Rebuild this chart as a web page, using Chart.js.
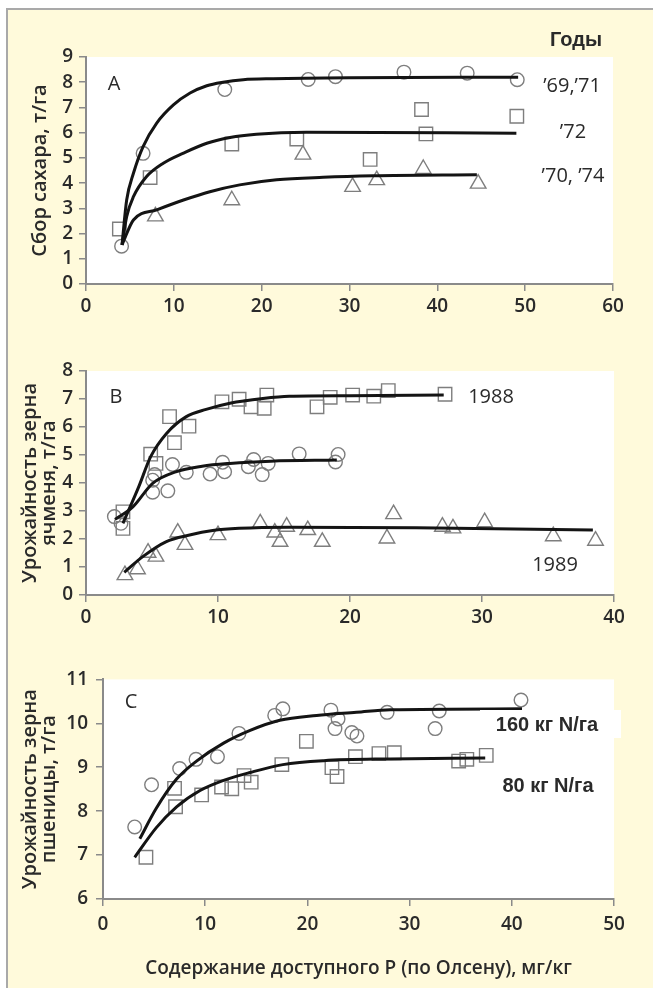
<!DOCTYPE html>
<html><head><meta charset="utf-8">
<script src="https://cdn.jsdelivr.net/npm/chart.js@4.4.1/dist/chart.umd.min.js"></script>
<style>
html,body{margin:0;padding:0;background:#fff;}
body{width:653px;height:988px;position:relative;overflow:hidden;}
#frame{position:absolute;left:6px;top:8px;width:647px;height:980px;background:#fffadb;border-left:2px solid #a9a9a9;border-top:2px solid #a9a9a9;box-sizing:border-box;}
canvas{position:absolute;left:0;}
</style></head><body>
<div id="frame"></div>
<canvas id="cA" width="653" height="330" style="top:0;width:653px;height:330px"></canvas>
<canvas id="cB" width="653" height="330" style="top:330px;width:653px;height:330px"></canvas>
<canvas id="cC" width="653" height="328" style="top:660px;width:653px;height:328px"></canvas>
<script>
// ---------- Panel A : sugar yield ----------
const aCircX = [4.05, 6.5, 15.8, 25.3, 28.4, 36.2, 43.4, 49.1];
const aCircY = [1.5, 5.18, 7.71, 8.11, 8.22, 8.4, 8.36, 8.1];
const aSqX = [3.8, 7.3, 16.6, 24.0, 32.35, 38.2, 38.7, 49.05];
const aSqY = [2.18, 4.22, 5.55, 5.75, 4.94, 6.92, 5.95, 6.65];
const aTriX = [7.9, 16.6, 24.7, 30.35, 33.1, 38.4, 44.65];
const aTriY = [2.68, 3.32, 5.13, 3.85, 4.12, 4.56, 3.98];
const aCurve1X = [4.1, 4.63, 5.4, 6.5, 8.05, 9.95, 11.85, 13.75, 15.6, 17.9, 21.3, 30, 49.2];
const aCurve1Y = [1.55, 3.33, 4.39, 5.45, 6.38, 7.1, 7.57, 7.86, 8.0, 8.1, 8.14, 8.18, 8.2];
const aCurve2X = [4.1, 4.63, 5.4, 6.9, 8.8, 11.1, 13.75, 16.4, 19.4, 25.1, 49.0];
const aCurve2Y = [1.55, 2.67, 3.46, 4.26, 4.79, 5.19, 5.58, 5.81, 5.94, 6.02, 5.98];
const aCurve3X = [4.1, 5.4, 8.05, 11.1, 14.1, 17.5, 21.7, 27.0, 32.7, 44.5];
const aCurve3Y = [1.55, 2.54, 2.94, 3.33, 3.66, 3.93, 4.13, 4.23, 4.29, 4.33];
const aXTicks = {min: 0, max: 60, step: 10};
const aYTicks = {min: 0, max: 9, step: 1};

// ---------- Panel B : barley grain yield ----------
const bSqX = [2.8, 2.8, 4.9, 5.3, 6.33, 6.7, 7.8, 10.3, 11.6, 12.5, 13.7, 13.5, 17.5, 18.5, 20.2, 21.8, 22.9, 27.2];
const bSqY = [2.97, 2.38, 5.03, 4.7, 6.37, 5.44, 6.03, 6.9, 6.99, 6.72, 7.14, 6.67, 6.72, 7.06, 7.14, 7.1, 7.3, 7.17];
const bCircX = [2.15, 2.65, 5.05, 5.2, 5.05, 6.2, 6.55, 7.6, 9.4, 10.35, 10.5, 12.3, 12.7, 13.35, 13.8, 16.15, 19.1, 18.9];
const bCircY = [2.8, 2.56, 4.1, 4.3, 3.67, 3.72, 4.66, 4.38, 4.32, 4.74, 4.4, 4.58, 4.84, 4.3, 4.7, 5.04, 5.02, 4.75];
const bTriX = [2.95, 3.9, 4.7, 5.3, 6.95, 7.5, 10.0, 13.2, 14.3, 14.7, 15.2, 16.8, 17.9, 22.8, 23.3, 27.0, 27.8, 30.2, 35.4, 38.6];
const bTriY = [0.71, 0.92, 1.51, 1.37, 2.23, 1.79, 2.14, 2.56, 2.23, 1.9, 2.44, 2.32, 1.9, 2.02, 2.89, 2.44, 2.38, 2.6, 2.1, 1.94];
const bCurve88X = [2.8, 4.0, 4.9, 6.1, 7.6, 9.1, 10.9, 13.4, 15.4, 20, 27.1];
const bCurve88Y = [2.56, 3.87, 4.94, 5.77, 6.37, 6.63, 6.85, 7.02, 7.1, 7.12, 7.14];
const bCurveCX = [2.2, 3.55, 5.05, 6.8, 8.8, 10.9, 14, 19.0];
const bCurveCY = [2.7, 3.15, 3.99, 4.4, 4.6, 4.7, 4.78, 4.82];
const bCurve89X = [2.9, 4.3, 6.05, 7.85, 9.6, 11.6, 15.4, 25, 38.4];
const bCurve89Y = [0.81, 1.37, 1.9, 2.14, 2.3, 2.38, 2.42, 2.4, 2.32];
const bXTicks = {min: 0, max: 40, step: 10};
const bYTicks = {min: 0, max: 8, step: 1};

// ---------- Panel C : wheat grain yield ----------
const cCircX = [3.1, 4.75, 7.5, 9.1, 11.2, 13.3, 16.8, 17.6, 22.3, 23.0, 22.7, 24.35, 24.85, 27.8, 32.9, 32.5, 40.9];
const cCircY = [7.64, 8.6, 8.97, 9.18, 9.24, 9.77, 10.18, 10.33, 10.3, 10.1, 9.88, 9.79, 9.71, 10.25, 10.28, 9.88, 10.53];
const cSqX = [4.2, 7.0, 7.1, 9.65, 11.6, 12.6, 13.8, 14.5, 17.5, 19.9, 22.4, 22.9, 24.7, 27.0, 28.5, 34.8, 35.6, 37.5];
const cSqY = [6.95, 8.52, 8.1, 8.37, 8.55, 8.51, 8.81, 8.66, 9.06, 9.59, 8.99, 8.79, 9.24, 9.31, 9.33, 9.14, 9.18, 9.27];
const cCurve160X = [3.6, 5.2, 7.2, 9.15, 11.8, 14.4, 17.3, 20.9, 24.8, 28.1, 41.0];
const cCurve160Y = [7.37, 8.06, 8.73, 9.14, 9.55, 9.84, 10.07, 10.18, 10.25, 10.31, 10.33];
const cCurve80X = [3.1, 5.2, 7.2, 9.5, 11.8, 14.4, 17.6, 21.6, 28.1, 37.4];
const cCurve80Y = [6.95, 7.62, 8.1, 8.47, 8.7, 8.88, 9.06, 9.15, 9.19, 9.21];
const cXTicks = {min: 0, max: 50, step: 10};
const cYTicks = {min: 6, max: 11, step: 1};

// ---------- styling ----------
const FONT = '"Open Sans", "Noto Sans", sans-serif';
const BOLD = '"Liberation Sans", Arial, sans-serif';
const TXT = '#2a2a2a';
const AXIS = '#8a8a8a';
const MARK = '#7e7e7e';

const pts = (xs, ys) => xs.map((x, i) => ({x, y: ys[i]}));

function markers(xs, ys, style, r) {
  return {data: pts(xs, ys), showLine: false, pointStyle: style, pointRadius: r, pointHoverRadius: r,
    pointBackgroundColor: 'rgba(0,0,0,0)', pointBorderColor: MARK, pointBorderWidth: 1.4};
}
function curve(xs, ys) {
  return {data: pts(xs, ys), showLine: true, pointRadius: 0, borderColor: '#141414', borderWidth: 3,
    cubicInterpolationMode: 'monotone', fill: false};
}
function xAxis(t, h, pad, title) {
  const o = {type: 'linear', position: 'bottom', min: t.min, max: t.max,
    ticks: {stepSize: t.step, font: {family: FONT, size: 19, weight: '600'}, color: TXT, padding: pad, autoSkip: false, maxRotation: 0},
    grid: {drawOnChartArea: false, drawTicks: true, tickLength: 7, color: AXIS, lineWidth: 1.5},
    border: {display: true, color: AXIS, width: 2},
    afterFit(s) { s.height = h; }};
  if (title) o.title = {display: true, text: title, font: {family: FONT, size: 19, weight: '600'}, color: TXT, padding: {top: 0, bottom: 8}};
  return o;
}
function yAxis(t, w, pad, title, lh, tpad) {
  return {type: 'linear', position: 'left', min: t.min, max: t.max,
    ticks: {stepSize: t.step, font: {family: FONT, size: 19, weight: '600'}, color: TXT, padding: pad, autoSkip: false},
    grid: {drawOnChartArea: false, drawTicks: true, tickLength: 7, color: AXIS, lineWidth: 1.5},
    border: {display: true, color: AXIS, width: 2},
    title: {display: true, text: title, font: {family: FONT, size: 20, weight: '600', lineHeight: lh}, color: TXT, padding: {top: tpad, bottom: 0}},
    afterFit(s) { s.width = w; }};
}
const whiteArea = {id: 'whiteArea', beforeDraw(chart) {
  const {ctx, chartArea: a} = chart; ctx.save(); ctx.fillStyle = '#ffffff';
  ctx.fillRect(a.left, a.top, a.right - a.left, a.bottom - a.top); ctx.restore(); }};
function notes(items) {
  return {id: 'notes', afterDraw(chart) {
    const ctx = chart.ctx; ctx.save();
    for (const it of items) {
      if (it.box) { ctx.fillStyle = '#ffffff'; ctx.fillRect(it.box[0], it.box[1], it.box[2], it.box[3]); }
      ctx.font = it.font; ctx.fillStyle = TXT; ctx.textAlign = 'center'; ctx.textBaseline = 'middle';
      ctx.fillText(it.text, it.x, it.y);
    }
    ctx.restore(); }};
}
function make(id, datasets, x, y, padding, items) {
  return new Chart(document.getElementById(id), {
    type: 'scatter',
    data: {datasets},
    options: {responsive: false, animation: false, devicePixelRatio: 1,
      layout: {padding},
      plugins: {legend: {display: false}, tooltip: {enabled: false}},
      scales: {x, y}},
    plugins: [whiteArea, notes(items)]
  });
}
const REG = `20px ${FONT}`;
const BLD = `bold 20px ${BOLD}`;

make('cA', [
  curve(aCurve1X, aCurve1Y), curve(aCurve2X, aCurve2Y), curve(aCurve3X, aCurve3Y),
  markers(aCircX, aCircY, 'circle', 6.8), markers(aSqX, aSqY, 'rect', 9.5), markers(aTriX, aTriY, 'triangle', 9)
], xAxis(aXTicks, 46, 4), yAxis(aYTicks, 86, 6, 'Сбор сахара, т/га', 1.2, 28),
  {top: 57, left: 0, right: 40, bottom: 0},
  [{text: 'Годы', x: 576, y: 40, font: BLD},
   {text: '’69,’71', x: 572, y: 86, font: REG},
   {text: '’72', x: 573, y: 132, font: REG},
   {text: '’70, ’74', x: 573, y: 176, font: REG},
   {text: 'A', x: 114, y: 84, font: REG}]);

make('cB', [
  curve(bCurve88X, bCurve88Y), curve(bCurveCX, bCurveCY), curve(bCurve89X, bCurve89Y),
  markers(bSqX, bSqY, 'rect', 9.5), markers(bCircX, bCircY, 'circle', 6.8), markers(bTriX, bTriY, 'triangle', 9)
], xAxis(bXTicks, 65, 4), yAxis(bYTicks, 86, 6, ['Урожайность зерна', 'ячменя, т/га'], 0.95, 21),
  {top: 41, left: 0, right: 39, bottom: 0},
  [{text: 'B', x: 116, y: 67, font: REG},
   {text: '1988', x: 491, y: 67, font: REG},
   {text: '1989', x: 555, y: 235, font: REG}]);

make('cC', [
  curve(cCurve160X, cCurve160Y), curve(cCurve80X, cCurve80Y),
  markers(cCircX, cCircY, 'circle', 6.8), markers(cSqX, cSqY, 'rect', 9.5)
], xAxis(cXTicks, 89, 7, 'Содержание доступного Р (по Олсену), мг/кг'),
  yAxis(cYTicks, 103, 8, ['Урожайность зерна', 'пшеницы, т/га'], 0.95, 21),
  {top: 15, left: 0, right: 39, bottom: 0},
  [{text: 'C', x: 131, y: 42, font: REG},
   {text: '160 кг N/га', x: 547, y: 65, font: BLD, box: [480, 50, 141, 28]},
   {text: '80 кг N/га', x: 548, y: 126, font: BLD}]);
</script>
</body></html>
